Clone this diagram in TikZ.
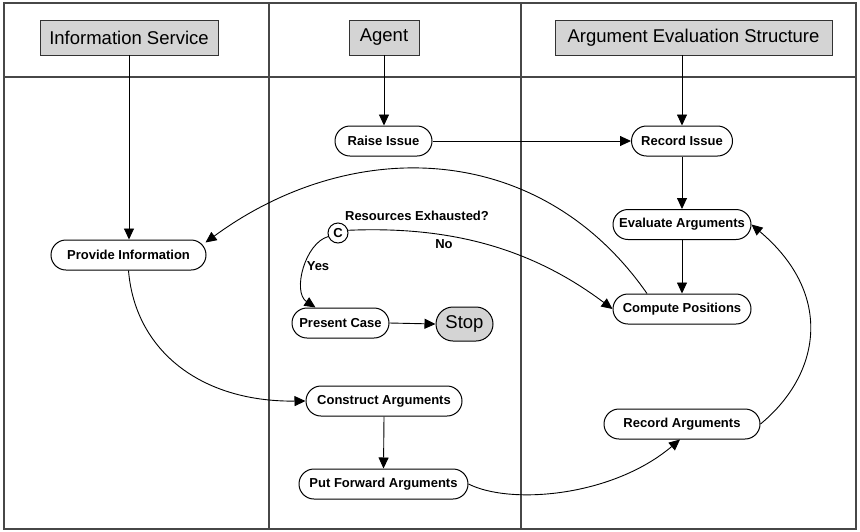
\documentclass[tikz,border=0pt]{standalone}
\usepackage{fontspec}
\setmainfont{Liberation Sans}
\usetikzlibrary{arrows.meta}
\begin{document}
\begin{tikzpicture}[x=1pt,y=-1pt,
  lane/.style={draw=black!72, line width=1.3pt},
  header/.style={draw=black!80, fill=black!17, line width=0.9pt, minimum height=35pt,
    inner sep=0pt, font=\fontsize{18.5}{20}\selectfont},
  act/.style={draw=black, fill=white, rounded corners=15pt, line width=1pt,
    minimum height=30pt, inner sep=0pt, font=\fontsize{13}{15}\bfseries\selectfont},
  endstate/.style={draw=black, fill=black!17, rounded corners=17pt, line width=1pt,
    minimum height=34pt, minimum width=57pt, inner sep=0pt, font=\fontsize{18.5}{20}\selectfont},
  choice/.style={draw=black, fill=white, circle, line width=1pt, minimum size=20pt,
    inner sep=0pt, font=\fontsize{13}{15}\bfseries\selectfont},
  flow/.style={draw=black, line width=0.9pt, -{Triangle[length=11pt,width=10pt]}},
  lbl/.style={font=\fontsize{13}{15}\bfseries\selectfont, inner sep=0pt},
]
\useasboundingbox (0,0) rectangle (860,531);

% swimlane frame
\draw[lane] (4,3) rectangle (856,529);
\draw[lane] (4,77) -- (856,77);
\draw[lane] (269,3) -- (269,529);
\draw[lane] (521,3) -- (521,529);

% lane headers
\node[header, minimum width=178pt] (hInfo)  at (129,37.5)   {Information Service};
\node[header, minimum width=70pt]  (hAgent) at (384,37.5)   {Agent};
\node[header, minimum width=277pt] (hAES)   at (693.5,37.5) {Argument Evaluation Structure};

% activities
\node[act, minimum width=97pt]  (raise)   at (383.5,141) {Raise Issue};
\node[act, minimum width=101pt] (recIss)  at (682,141)   {Record Issue};
\node[act, minimum width=155pt] (prov)    at (128.5,255) {Provide Information};
\node[act, minimum width=138pt] (eval)    at (682,224.5) {Evaluate Arguments};
\node[act, minimum width=138pt] (comp)    at (682,309)   {Compute Positions};
\node[choice]                   (cond)    at (338,233)   {C};
\node[act, minimum width=97pt]  (present) at (340.5,323) {Present Case};
\node[endstate]                 (stop)    at (464.5,324) {Stop};
\node[act, minimum width=156pt] (constr)  at (384,401)   {Construct Arguments};
\node[act, minimum width=169pt] (putfwd)  at (383.5,484) {Put Forward Arguments};
\node[act, minimum width=156pt] (recArg)  at (682,424)   {Record Arguments};

% labels of the decision
\node[lbl] (qlbl)  at (417,216) {Resources Exhausted?};
\node[lbl] (nolbl) at (444,244) {No};
\node[lbl] (yslbl) at (318,266) {Yes};

% straight flows
\draw[flow] (hInfo.south) -- (hInfo.south |- prov.north);
\draw[flow] (hAgent.south) -- (hAgent.south |- raise.north);
\draw[flow] (hAES.south -| recIss.north) -- (recIss.north);
\draw[flow] (raise.east) -- (recIss.west);
\draw[flow] (recIss.south) -- (eval.north);
\draw[flow] (eval.south) -- (comp.north);
\draw[flow] (present.east) -- (stop.west);
\draw[flow] (constr.south) -- (putfwd.north);

% curved flows
\draw[flow] ([xshift=-35pt]comp.north) .. controls (540,140) and (352,135) .. ([xshift=-1pt,yshift=-3pt]prov.north east);
\draw[flow] (cond.15) .. controls (448,226) and (530,247) .. (comp.west);
\draw[flow] (cond.200) .. controls (305,243) and (292,292) .. ([xshift=-25pt]present.north);
\draw[flow] (prov.south) .. controls (135,350) and (200,402) .. (constr.west);
\draw[flow] (putfwd.east) .. controls (510,505) and (612,497) .. ([xshift=-2pt]recArg.south);
\draw[flow] (recArg.east) .. controls (820,375) and (835,295) .. (eval.east);
\end{tikzpicture}
\end{document}
